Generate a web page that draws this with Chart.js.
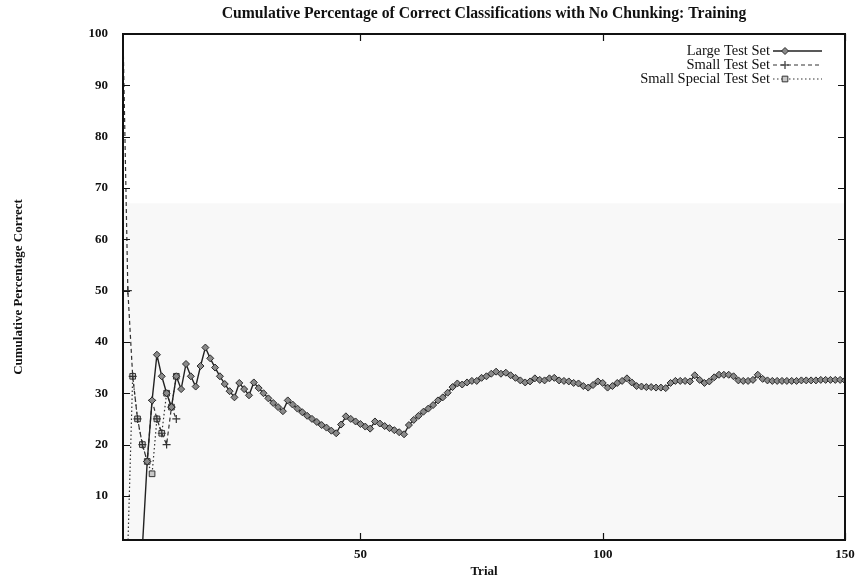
<!DOCTYPE html>
<html>
<head>
<meta charset="utf-8">
<script src="https://cdn.jsdelivr.net/npm/chart.js@4"></script>
<style>
  html, body { margin: 0; padding: 0; background: #fff; }
  #wrap { width: 857px; height: 579px; }
</style>
</head>
<body>
<div id="wrap"><canvas id="chart"></canvas></div>
<script>
// trial numbers (x axis)
const trials = Array.from({ length: 150 }, (_, i) => i + 1);

// cumulative percentage correct
const largeSet = [
  0, 0, 0, 0, 0, 16.7, 28.6, 37.5, 33.3, 30.0,
  27.3, 33.3, 30.8, 35.7, 33.3, 31.3, 35.3, 38.9, 36.8, 35.0,
  33.3, 31.8, 30.4, 29.2, 32.0, 30.8, 29.6, 32.1, 31.0, 30.0,
  29.0, 28.1, 27.3, 26.5, 28.6, 27.8, 27.0, 26.3, 25.6, 25.0,
  24.4, 23.8, 23.3, 22.7, 22.2, 23.9, 25.5, 25.0, 24.5, 24.0,
  23.5, 23.1, 24.5, 24.1, 23.6, 23.2, 22.8, 22.4, 22.0, 23.8,
  24.8, 25.6, 26.4, 27.0, 27.7, 28.6, 29.2, 30.1, 31.2, 31.9,
  31.7, 32.1, 32.4, 32.4, 33.0, 33.3, 33.8, 34.2, 33.8, 34.0,
  33.5, 33.0, 32.5, 32.1, 32.3, 32.9, 32.6, 32.5, 32.9, 33.0,
  32.5, 32.4, 32.3, 32.0, 31.9, 31.4, 31.1, 31.6, 32.3, 32.0,
  31.1, 31.4, 32.0, 32.4, 32.9, 32.1, 31.4, 31.3, 31.2, 31.2,
  31.1, 31.1, 31.0, 32.0, 32.4, 32.4, 32.4, 32.3, 33.5, 32.6,
  32.0, 32.3, 33.1, 33.6, 33.6, 33.6, 33.3, 32.5, 32.4, 32.4,
  32.6, 33.6, 32.8, 32.5, 32.4, 32.4, 32.4, 32.4, 32.4, 32.4,
  32.5, 32.5, 32.5, 32.5, 32.6, 32.6, 32.6, 32.6, 32.6, 32.5
];
const smallSet = [100, 50, 33.3, 25, 20, 16.7, 28.6, 25, 22.2, 20, 27.3, 25];
const smallSpecialSet = [0, 0, 33.3, 25, 20, 16.7, 14.3, 25, 22.2, 30, 27.3, 33.3];

const seriesNames = ['Large Test Set', 'Small Test Set', 'Small Special Test Set'];
const xTicks = [50, 100, 150];
const yTicks = [10, 20, 30, 40, 50, 60, 70, 80, 90, 100];

const serif = "'Liberation Serif', 'DejaVu Serif', serif";
const ink = '#111';

function toPoints(values) {
  return values.map((v, i) => ({ x: trials[i], y: v }));
}

// frame with inward ticks, like the original plot
const framePlugin = {
  id: 'frame',
  beforeDatasetsDraw(chart) {
    const { ctx, chartArea: a, scales: { y } } = chart;
    const top = y.getPixelForValue(67);
    ctx.save();
    ctx.fillStyle = '#f8f8f8';
    ctx.fillRect(a.left, top, a.right - a.left, a.bottom - top);
    ctx.restore();
  },
  afterDatasetsDraw(chart) {
    const { ctx, chartArea: a, scales: { x, y } } = chart;
    ctx.save();
    ctx.strokeStyle = ink;
    ctx.lineWidth = 1.2;
    ctx.beginPath();
    yTicks.forEach(v => {
      const py = Math.round(y.getPixelForValue(v)) + 0.5;
      ctx.moveTo(a.left, py); ctx.lineTo(a.left + 7, py);
      ctx.moveTo(a.right, py); ctx.lineTo(a.right - 7, py);
    });
    xTicks.forEach(v => {
      const px = Math.round(x.getPixelForValue(v)) + 0.5;
      ctx.moveTo(px, a.bottom); ctx.lineTo(px, a.bottom - 7);
      ctx.moveTo(px, a.top); ctx.lineTo(px, a.top + 7);
    });
    ctx.stroke();
    ctx.lineWidth = 2;
    ctx.strokeRect(a.left, a.top, a.right - a.left, a.bottom - a.top);
    ctx.restore();
  }
};

// gnuplot style key: text on the left, sample on the right, inside the plot
const keyPlugin = {
  id: 'gnuKey',
  afterDraw(chart) {
    const { ctx, chartArea: a } = chart;
    const textRight = a.right - 75;
    const sampleLeft = a.right - 72;
    const sampleRight = a.right - 23;
    ctx.save();
    ctx.font = '14.5px ' + serif;
    ctx.textAlign = 'right';
    ctx.textBaseline = 'middle';
    chart.data.datasets.forEach((ds, i) => {
      const yy = a.top + 17 + i * 14;
      ctx.fillStyle = ink;
      ctx.fillText(ds.label, textRight, yy);
      ctx.strokeStyle = ds.borderColor;
      ctx.lineWidth = ds.borderWidth;
      ctx.setLineDash(ds.borderDash || []);
      ctx.beginPath();
      ctx.moveTo(sampleLeft, yy);
      ctx.lineTo(sampleRight, yy);
      ctx.stroke();
      ctx.setLineDash([]);
      if (Chart.helpers && Chart.helpers.drawPoint) {
        ctx.fillStyle = ds.pointBackgroundColor;
        ctx.strokeStyle = ds.pointBorderColor;
        ctx.lineWidth = ds.pointBorderWidth;
        Chart.helpers.drawPoint(ctx, {
          pointStyle: ds.pointStyle,
          radius: ds.pointRadius,
          rotation: 0,
          borderWidth: ds.pointBorderWidth
        }, sampleLeft + 12, yy);
      }
    });
    ctx.restore();
  }
};

new Chart(document.getElementById('chart'), {
  type: 'line',
  plugins: [framePlugin, keyPlugin],
  data: {
    datasets: [{
      label: seriesNames[0],
      data: toPoints(largeSet),
      borderColor: '#222',
      borderWidth: 1.4,
      pointStyle: 'rectRot',
      pointRadius: 3.5,
      pointBackgroundColor: '#8a8a8a',
      pointBorderColor: '#2a2a2a',
      pointBorderWidth: 1,
      tension: 0
    }, {
      label: seriesNames[1],
      data: toPoints(smallSet),
      borderColor: '#333',
      borderWidth: 1.2,
      borderDash: [4, 3],
      pointStyle: 'cross',
      pointRadius: 4,
      pointBackgroundColor: '#333',
      pointBorderColor: '#333',
      pointBorderWidth: 1.2,
      tension: 0
    }, {
      label: seriesNames[2],
      data: toPoints(smallSpecialSet),
      borderColor: '#333',
      borderWidth: 1.2,
      borderDash: [1.5, 2.5],
      pointStyle: 'rect',
      pointRadius: 4,
      pointBackgroundColor: '#c8c8c8',
      pointBorderColor: '#333',
      pointBorderWidth: 1,
      tension: 0
    }]
  },
  options: {
    responsive: true,
    maintainAspectRatio: false,
    animation: false,
    events: [],
    layout: { padding: { left: 0, right: 0, top: 0, bottom: 0 } },
    plugins: {
      legend: { display: false },
      tooltip: { enabled: false },
      title: { display: false }
    },
    scales: {
      x: {
        type: 'linear',
        min: 1,
        max: 150,
        afterBuildTicks: axis => { axis.ticks = xTicks.map(v => ({ value: v })); },
        afterFit: axis => { axis.height = 39; axis.paddingRight = 12; axis.paddingLeft = 0; },
        grid: { display: false, drawTicks: false },
        border: { display: false },
        ticks: { color: ink, padding: 7, maxRotation: 0, font: { family: serif, size: 13, weight: 'bold' } },
        title: { display: true, text: 'Trial', color: ink, padding: { top: 0, bottom: 0 }, font: { family: serif, size: 13, weight: 'bold' } }
      },
      x2: {
        type: 'linear',
        position: 'top',
        min: 1,
        max: 150,
        afterFit: axis => { axis.height = 34; axis.paddingRight = 0; axis.paddingLeft = 0; },
        grid: { display: false, drawTicks: false },
        border: { display: false },
        ticks: { display: false },
        title: {
          display: true,
          text: 'Cumulative Percentage of Correct Classifications with No Chunking: Training',
          color: ink,
          padding: { top: 5, bottom: 0 },
          font: { family: serif, size: 15.7, weight: 'bold' }
        }
      },
      y: {
        min: 1.4,
        max: 100,
        afterBuildTicks: axis => { axis.ticks = yTicks.map(v => ({ value: v })); },
        afterFit: axis => { axis.width = 123; },
        grid: { display: false, drawTicks: false },
        border: { display: false },
        ticks: { color: ink, padding: 15, font: { family: serif, size: 13, weight: 'bold' } },
        title: { display: true, text: 'Cumulative Percentage Correct', color: ink, padding: { top: 11, bottom: 0 }, font: { family: serif, size: 13, weight: 'bold' } }
      }
    }
  }
});
</script>
</body>
</html>
